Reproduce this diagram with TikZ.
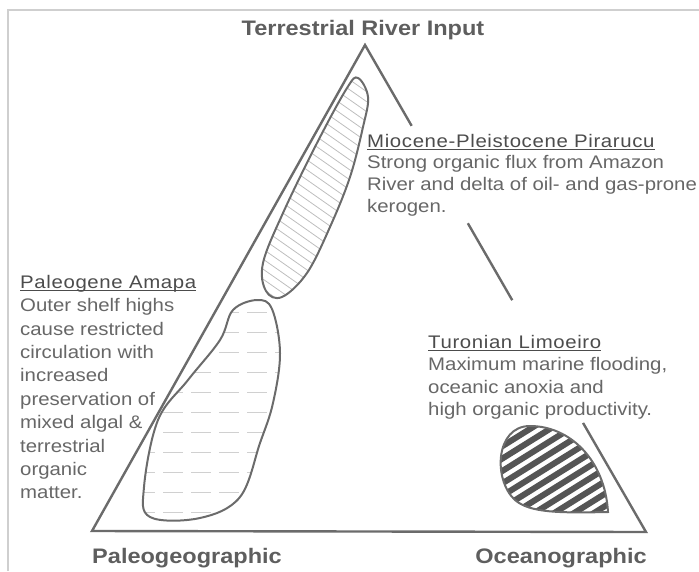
\documentclass[tikz,border=0pt]{standalone}
\usepackage{fontspec}
\setmainfont{Liberation Sans}[FakeStretch=1.12]
\usetikzlibrary{calc}
\definecolor{linegray}{HTML}{6B6B6B}
\definecolor{framegray}{HTML}{CFCFCF}
\definecolor{hatchgray}{HTML}{BEBEBE}
\definecolor{dashgray}{HTML}{D0D0D0}
\definecolor{stripegray}{HTML}{555555}
\definecolor{labelgray}{HTML}{5E5E5E}
\definecolor{bodygray}{HTML}{676767}
\definecolor{headgray}{HTML}{4C4C4C}
\newsavebox{\headbox}
\newcommand{\heading}[1]{\sbox{\headbox}{\color{headgray}\addfontfeature{LetterSpace=3.5}#1}\rlap{\usebox{\headbox}}{\color{headgray}\rule[-2.6pt]{\wd\headbox}{1.2pt}}}
\def\mioblob{plot[smooth cycle, tension=0.6] coordinates {(358,78) (368,97) (363,127) (350,177) (330,227) (307,273) (282,297) (266,291) (263,263) (283,213) (317,143) (347,88)}}
\def\amablob{plot[smooth cycle, tension=0.6] coordinates {(233,310) (257,300) (272,309) (280,353) (273,403) (260,443) (240,497) (200,518) (150,517) (144,487) (158,420) (188,380) (220,340)}}
\def\turblob{(608,512) .. controls (605,460) and (570,426) .. (530,426) .. controls (495,426) and (493,480) .. (515,500) .. controls (530,513) and (560,513) .. (608,512) -- cycle}
\begin{document}
\begin{tikzpicture}[x=1pt, y=-1pt,
    sideline/.style={draw=linegray, line width=2.4pt},
    blobline/.style={draw=linegray, line width=2pt},
    cornerlabel/.style={font=\fontsize{21}{24}\selectfont\bfseries, text=labelgray, inner sep=0pt, anchor=base},
    blocktext/.style={align=left, anchor=north west, inner sep=0pt, text=bodygray}]
  \useasboundingbox (0,0) rectangle (699,571);
  \draw[framegray, line width=1.5pt] (8,571) -- (8,10) -- (699,10);
  \coordinate (apex) at (365,45);
  \coordinate (pleft) at (92,531);
  \coordinate (pright) at (646,532);
  \draw[sideline] ($(apex)!0.776!(pright)$) -- (pright) -- (pleft) -- (apex) -- ($(apex)!0.166!(pright)$);
  \draw[sideline] ($(apex)!0.366!(pright)$) -- ($(apex)!0.524!(pright)$);
  \begin{scope}
    \clip \mioblob;
    \foreach \k in {-2,...,30} { \draw[hatchgray, line width=0.8pt] ({250},{10*\k}) -- ({380},{10*\k+91}); }
  \end{scope}
  \draw[blobline] \mioblob;
  \begin{scope}
    \clip \amablob;
    \foreach \y in {312,332,...,512} { \draw[dashgray, line width=0.8pt, dash pattern=on 20pt off 8pt] (135,\y) -- (290,\y); }
  \end{scope}
  \draw[blobline] \amablob;
  \begin{scope}
    \clip \turblob;
    \foreach \s in {-90,-79.5,...,90} { \draw[stripegray, line width=6pt] ({555+0.53*\s-85},{470+0.85*\s+53}) -- ({555+0.53*\s+85},{470+0.85*\s-53}); }
  \end{scope}
  \draw[blobline] \turblob;
  \node[cornerlabel] (terr) at (363,35) {Terrestrial River Input};
  \node[cornerlabel] (paleo) at (187,563) {Paleogeographic};
  \node[cornerlabel] (ocean) at (561,563) {Oceanographic};
  \node[blocktext, font=\fontsize{18.2}{21.6}\selectfont] (mio) at (367,134) {\heading{Miocene-Pleistocene Pirarucu}\\Strong organic flux from Amazon\\River and delta of oil- and gas-prone\\kerogen.};
  \node[blocktext, font=\fontsize{18.2}{23.4}\selectfont] (amapa) at (20,275) {\heading{Paleogene Amapa}\\Outer shelf highs\\cause restricted\\circulation with\\increased\\preservation of\\mixed algal \&\\terrestrial\\organic\\matter.};
  \node[blocktext, font=\fontsize{18.2}{22.4}\selectfont] (turon) at (428,335) {\heading{Turonian Limoeiro}\\Maximum marine flooding,\\oceanic anoxia and\\high organic productivity.};
\end{tikzpicture}
\end{document}
